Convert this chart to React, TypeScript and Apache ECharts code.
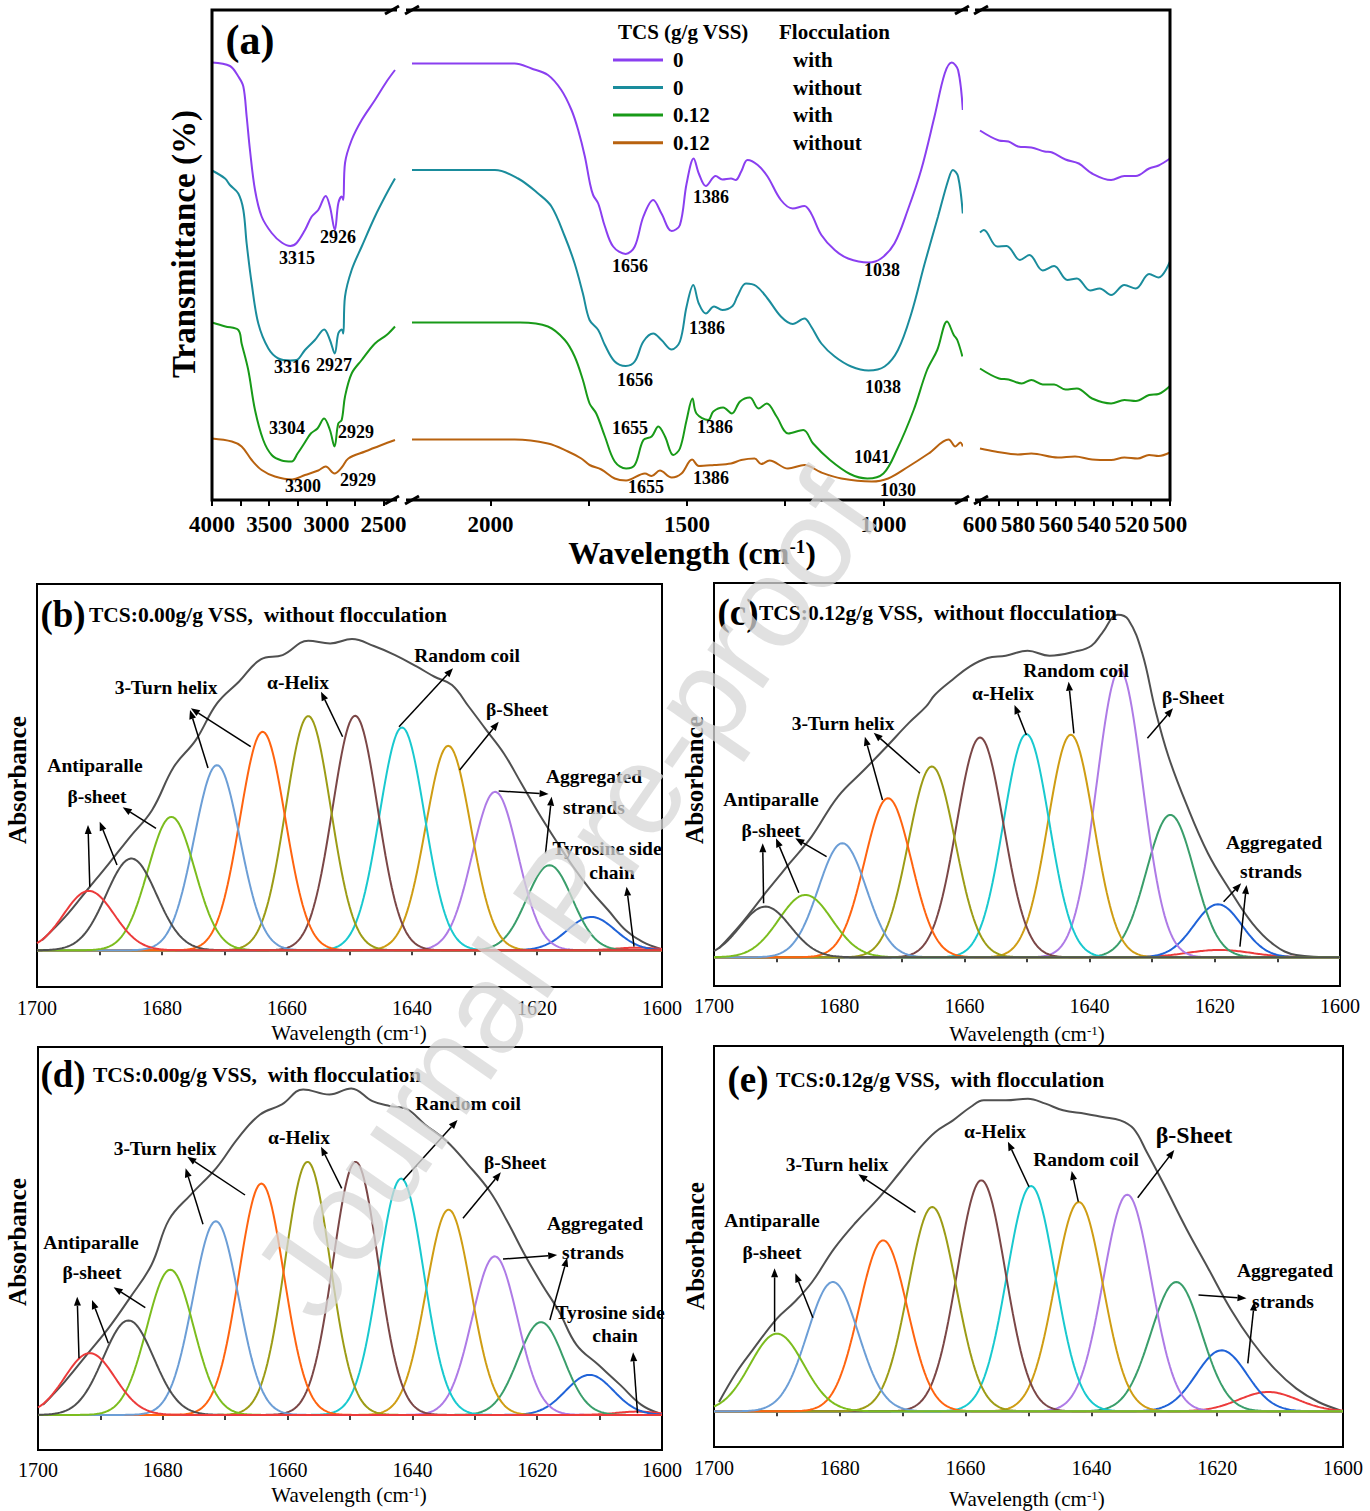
import React, { useEffect, useRef } from "react";
import * as echarts from "echarts";

const FONT = '"Liberation Serif", "Times New Roman", Times, serif';

// ================= Panel (a): FTIR spectra =================
// [wavenumber (cm-1), transmittance (a.u., curves vertically offset)]
const TCS0_WITH_HIGH = [[4000,87.5],[3843,86.8],[3770,84.7],[3726,82.7],[3697,76.7],[3668,70],[3624,62],[3566,56.7],[3478,53.4],[3391,51.5],[3315,50.8],[3260,51.4],[3187,54],[3128,56.7],[3071,58],[3006,60.8],[2969,58.7],[2926,54],[2896,59.3],[2866,60.7],[2852,60],[2837,67.4],[2779,72],[2691,76],[2575,80],[2473,83.7],[2400,86]];
const TCS0_WITH_MID = [[2200,87.3],[1939,87.3],[1896,86.3],[1854,85],[1820,82],[1794,78],[1777,74],[1760,68.7],[1747,63.3],[1739,61],[1726,59.3],[1709,54.7],[1688,50.7],[1656,49.2],[1633,50.7],[1611,56.7],[1586,60],[1565,57.3],[1539,53.8],[1518,55],[1501,63.3],[1483,68.3],[1470,65.3],[1452,62.8],[1427,64.8],[1410,64.1],[1388,64.3],[1376,64],[1362,65.7],[1346,68],[1320,67],[1295,64.7],[1261,60],[1231,58.3],[1201,58.8],[1184,57.3],[1158,53],[1124,50],[1090,48.3],[1038,47.5],[1006,48.3],[972,51.3],[938,58],[904,66],[870,76.7],[844,85.3],[826,87.5],[810,86],[798,78]];
const TCS0_WITH_LOW = [[600,73.9],[590,71.9],[585,71.7],[580,70.7],[573,70.5],[566,69.7],[562,69.5],[555,68.1],[548,67.3],[541,65.3],[531,64],[524,64.8],[518,64.8],[511,66.3],[506,66.9],[500,68.3]];

const TCS0_WITHOUT_HIGH = [[4000,65.9],[3886,64.3],[3843,63],[3770,61.3],[3726,58],[3697,51.3],[3653,43.3],[3595,35.3],[3507,30.3],[3420,28.3],[3316,27.9],[3260,28],[3187,30],[3100,32],[3019,34.1],[2969,32],[2927,29.3],[2896,33.3],[2866,34.1],[2852,33.3],[2837,40.7],[2779,46],[2691,50.7],[2575,56.7],[2473,61.3],[2400,64.3]];
const TCS0_WITHOUT_MID = [[2200,66],[1989,66],[1930,64.3],[1879,61.3],[1845,58.7],[1811,52.7],[1786,47.3],[1765,41.3],[1748,36],[1726,34],[1709,31],[1684,27.7],[1656,26.8],[1633,27.7],[1611,31.7],[1586,33.3],[1565,32],[1539,30.1],[1518,31.7],[1501,38.7],[1484,43],[1470,39.3],[1452,37.3],[1431,38.7],[1410,38],[1384,38.8],[1372,40.7],[1350,43.3],[1324,42.8],[1295,40.3],[1261,36.7],[1231,35.2],[1201,36.3],[1184,34.7],[1158,31.3],[1124,28.7],[1082,26.7],[1038,25.9],[997,26.7],[963,30],[929,37.3],[895,47.3],[861,56.7],[835,64],[823,66],[810,64.7],[798,57.3]];
const TCS0_WITHOUT_LOW = [[600,53.5],[598,54],[591,50.7],[586,50.8],[579,48],[574,49],[567,45.9],[561,46.8],[554,44],[549,44.3],[542,41.9],[537,42.3],[531,41],[524,43],[518,42.3],[511,45.2],[506,44.5],[500,47.7]];

const TCS012_WITH_HIGH = [[4000,35.5],[3883,34.7],[3770,34],[3741,31.3],[3683,26],[3624,18],[3552,12],[3478,9],[3391,7.9],[3304,7.7],[3252,9.3],[3194,11.3],[3136,13.3],[3078,14.3],[3020,16.3],[2969,14],[2929,10.7],[2896,15.3],[2866,16],[2837,20.7],[2779,25.3],[2691,28],[2575,31.3],[2473,33],[2400,34.7]];
const TCS012_WITH_MID = [[2200,35.5],[1925,35.5],[1854,34.7],[1811,32],[1786,28.7],[1765,24],[1748,19.3],[1731,17.3],[1709,12.7],[1684,7.7],[1655,6.3],[1633,7],[1611,12],[1590,12.7],[1573,14.7],[1556,12.7],[1535,9],[1518,10.3],[1501,16],[1486,20.3],[1476,17.3],[1446,16],[1433,17.7],[1408,18.5],[1386,17.3],[1365,19.7],[1340,20.5],[1318,18.3],[1297,19.3],[1272,16.7],[1242,13.3],[1204,14],[1179,11.3],[1136,8],[1085,5.2],[1041,4.3],[1000,5.3],[966,10],[923,18],[889,26],[863,30],[838,35.7],[821,33],[812,32],[799,28.7]];
const TCS012_WITH_LOW = [[600,26.3],[590,24.3],[585,24.1],[578,23.3],[573,24],[567,23.1],[561,23.1],[555,22.1],[549,22.3],[541,20.3],[531,19.3],[524,20],[518,19.8],[511,21],[506,21.2],[500,22.8]];

const TCS012_WITHOUT_HIGH = [[4000,12.3],[3826,11.7],[3741,10.7],[3653,8],[3566,6],[3450,4.7],[3300,4.1],[3187,5],[3071,5.9],[3006,6.7],[2929,5.3],[2866,6.5],[2808,8.3],[2662,9.7],[2517,11],[2400,12]];
const TCS012_WITHOUT_MID = [[2200,12.1],[1939,12.1],[1854,11.3],[1803,9.7],[1769,8.3],[1748,7],[1718,6.1],[1684,4.3],[1655,3.9],[1607,5.3],[1590,4.8],[1569,5.9],[1539,4.5],[1514,5.3],[1487,8.1],[1470,6.8],[1431,7],[1388,7.3],[1362,8],[1328,8.3],[1311,7.2],[1290,7.9],[1243,6.3],[1201,7],[1158,5.5],[1107,4.3],[1030,3.7],[988,4.3],[936,6.7],[885,9.3],[834,12.1],[817,10.7],[804,11.5],[798,10.7]];
const TCS012_WITHOUT_LOW = [[600,10.3],[592,9.7],[580,9.1],[573,9.3],[559,8.5],[550,8.7],[541,8.1],[531,8],[524,8.5],[517,8.3],[511,9],[506,8.8],[500,9.5]];

const LEGEND_TCS = ["0", "0", "0.12", "0.12"];
const LEGEND_FLOC = ["with", "without", "with", "without"];
const PEAK_LABELS_A = [
  ["3315", "2926", "1656", "1386", "1038"],
  ["3316", "2927", "1656", "1386", "1038"],
  ["3304", "2929", "1655", "1386", "1041"],
  ["3300", "2929", "1655", "1386", "1030"],
];
const A_LABELS_HIGH = [4000, 3500, 3000, 2500];
const A_TICKS_HIGH = [4000, 3750, 3500, 3250, 3000, 2750, 2500];
const A_LABELS_MID = [2000, 1500, 1000];
const A_TICKS_MID = [2000, 1750, 1500, 1250, 1000];

// ================= Panels (b)-(e): amide I curve fitting =================
// measured spectrum: [wavenumber, absorbance (a.u.)]
const B_SPECTRUM = [[1699.2,3],[1695.5,10],[1692,18],[1688.5,26],[1685.1,34],[1681.6,42],[1678.1,55],[1674.6,63],[1671.2,74],[1667.7,80.5],[1664.2,87.2],[1660.7,88.5],[1656.6,92.8],[1653.1,92],[1649.6,93.3],[1646.1,91.2],[1642.7,88.5],[1639.2,85],[1636.4,82],[1633.6,79.5],[1630.9,73],[1628.1,66],[1625.3,59],[1622.5,50],[1619.7,41],[1617,33],[1614.2,25],[1611.4,18],[1608.6,12],[1605.8,6],[1603.1,2.5],[1600.3,0.5]];
const B_CENTERS = [1691.7,1684.9,1678.5,1671.2,1663.9,1656.6,1649.1,1641.6,1634.2,1626.7,1618.0,1611.3,1604.0];
const B_HEIGHTS = [17.8,27.5,40,55.5,65.5,70.2,70.3,66.8,61.3,47.5,25.5,10,0.8];
const B_FWHM = [9.5,9.5,8.8,8.6,8.5,8.5,8.5,8.5,8.5,8.6,8.6,9,8];

const C_SPECTRUM = [[1699.2,2.7],[1695.6,10.2],[1691.4,20.2],[1687.9,28.2],[1684.4,36.2],[1680.2,48.2],[1676,56.2],[1672.4,63.2],[1668.9,70.2],[1666.1,75.2],[1664.7,78.7],[1661.9,83.2],[1659.1,87.2],[1656.3,89.7],[1653.4,90.4],[1649.9,91.9],[1646.4,90.4],[1642.2,91.7],[1639.7,93.4],[1638,97.2],[1635.5,102.7],[1633.8,101.2],[1631.6,91.2],[1629.5,74.2],[1627.4,60.2],[1624.6,46.2],[1621.1,31.2],[1617.6,20.2],[1614,10.2],[1610.5,3.7],[1607,0.7],[1600.7,0]];
const C_CENTERS = [1691.8,1685.4,1679.5,1672.2,1665.2,1657.5,1650.1,1643.0,1635.2,1627.1,1619.5,1619.3];
const C_HEIGHTS = [15.2,18.7,34.2,47.7,57.2,65.9,66.9,66.7,86.2,42.7,15.9,2.2];
const C_FWHM = [9.5,10,9,8.8,8.8,8.8,8.6,8.6,8.6,9,9,12];

const D_SPECTRUM = [[1699.2,3],[1695.7,10],[1692.2,18],[1688.7,26],[1685.3,35],[1681.8,45],[1679,58.5],[1675.5,66],[1671.4,74],[1667.9,83],[1664.4,90],[1660.9,93],[1657.5,97.5],[1653.3,96],[1649.8,97.8],[1646.4,94],[1643.6,92.5],[1640.8,91.5],[1638,87],[1634.5,82],[1631.1,75],[1627.6,67],[1624.8,58],[1622,48],[1619.2,39],[1616.5,31],[1613.7,21],[1610.2,15],[1606.7,9],[1603.3,3],[1600.5,0.5]];
const D_CENTERS = [1691.7,1685.5,1678.8,1671.5,1664.2,1656.8,1649.1,1641.8,1634.2,1626.8,1619.4,1611.6,1604.0];
const D_HEIGHTS = [18.5,28.3,43.5,58,69.3,75.8,75.8,70.8,61.5,47.5,27.8,12,1];
const D_FWHM = [9.5,9.5,8.8,8.6,8.5,8.5,8.5,8.5,8.5,8.6,8.6,9,8];

const E_SPECTRUM = [[1699.2,2.8],[1696.4,11.8],[1693.9,18.3],[1690,27.8],[1687.2,32.8],[1684.4,38.8],[1680.9,48.8],[1677.4,56.8],[1673.9,63.8],[1670.4,71.8],[1667.6,78.3],[1664.8,83.8],[1662,87.3],[1659.2,91.3],[1657.1,93.3],[1653.6,93.3],[1650.1,93.8],[1647.3,92.3],[1644.5,90.3],[1641,89.3],[1638.2,88.3],[1635.4,87.3],[1633.3,84.8],[1631.2,77.8],[1628.4,67.8],[1624.9,54.8],[1621.4,42.8],[1617.9,30.8],[1614.4,20.8],[1610.9,12.8],[1607.4,6.8],[1603.9,2.8],[1600.4,0.3]];
const E_CENTERS = [1690,1681.1,1673.1,1665.3,1657.5,1649.6,1642,1634.3,1626.5,1619.3,1611.9];
const E_HEIGHTS = [23.3,38.8,51.3,61.3,69.3,67.6,62.8,65,38.8,18.3,5.8];
const E_FWHM = [10,9.5,9,9,9,9,9,9,9.5,9.5,11];

const FIT_TITLES = [
  "TCS:0.00g/g VSS,  without flocculation",
  "TCS:0.12g/g VSS,  without flocculation",
  "TCS:0.00g/g VSS,  with flocculation",
  "TCS:0.12g/g VSS,  with flocculation",
];

// ================= styles =================
const A_COLORS = ["#8a3ff0", "#1a8c9c", "#189a18", "#b8620f"];
const RED = "#ec3b3b", GREY = "#4f4f4f", YGREEN = "#7cbd1e", LBLUE = "#6c9ed6", ORANGE = "#ff6410",
  OLIVE = "#9c9c16", BROWN = "#7b4747", CYAN = "#19c9cf", GOLD = "#cf9d14", LAV = "#ae7be6",
  GREEN = "#3a9e6b", BLUE = "#2063d8";
const ENV_COLOR = "#505050";

function gaussian(c: number, h: number, fw: number) {
  const pts: number[][] = [];
  for (let i = 0; i <= 400; i++) {
    const x = 1600 + i * 0.25;
    pts.push([x, h * Math.exp((-4 * Math.LN2 * (x - c) * (x - c)) / (fw * fw))]);
  }
  return pts;
}

function txt(text: string, x: number, y: number, size: number, o: any = {}) {
  return {
    type: "text",
    x, y,
    z: 60,
    rotation: o.rot || 0,
    style: {
      text,
      fontSize: size,
      fontWeight: o.weight || "bold",
      fontFamily: o.family || FONT,
      fill: o.fill || "#000",
      align: o.align || "center",
      verticalAlign: "middle",
      rich: o.rich,
    },
  };
}

function arrow(a: number[]) {
  const [x1, y1, x2, y2] = a;
  const ang = Math.atan2(y2 - y1, x2 - x1);
  const L = 9, W = 3.5;
  const bx = x2 - L * Math.cos(ang), by = y2 - L * Math.sin(ang);
  const px = -Math.sin(ang) * W, py = Math.cos(ang) * W;
  return [
    { type: "line", z: 60, shape: { x1, y1, x2: bx, y2: by }, style: { stroke: "#000", lineWidth: 1.5 } },
    { type: "polygon", z: 60, shape: { points: [[x2, y2], [bx + px, by + py], [bx - px, by - py]] }, style: { fill: "#000" } },
  ];
}

function wavelengthTitle(x: number, y: number, size: number, weight: string) {
  return txt("{n|Wavelength (cm}{s|-1}{n|)}", x, y, size, {
    weight,
    rich: {
      n: { fontSize: size, fontWeight: weight, fontFamily: FONT, fill: "#000" },
      s: { fontSize: Math.round(size * 0.6), fontWeight: weight, fontFamily: FONT, fill: "#000", verticalAlign: "top" },
    },
  });
}

const plain = (v: number) => String(v);

function buildOption() {
  const grids: any[] = [];
  const xAxes: any[] = [];
  const yAxes: any[] = [];
  const series: any[] = [];
  const graphic: any[] = [];

  // ---------- panel (a) ----------
  const aGrids = [
    { left: 212, width: 183 },
    { left: 412, width: 550 },
    { left: 980, width: 190 },
  ];
  aGrids.forEach((g) => grids.push({ left: g.left, width: g.width, top: 10, height: 490, outerBoundsMode: "none", containLabel: false }));
  const aLabel = { fontSize: 23, fontWeight: "bold", fontFamily: FONT, color: "#000", margin: 13, showMinLabel: true, showMaxLabel: true };
  const aTick = { show: true, length: 6, lineStyle: { color: "#000", width: 2 } };
  xAxes.push({ gridIndex: 0, type: "value", min: 2400, max: 4000, inverse: true, axisLine: { show: false }, splitLine: { show: false },
    axisTick: { ...aTick, customValues: A_TICKS_HIGH }, axisLabel: { ...aLabel, customValues: A_LABELS_HIGH, formatter: plain } });
  xAxes.push({ gridIndex: 1, type: "value", min: 800, max: 2200, inverse: true, axisLine: { show: false }, splitLine: { show: false },
    axisTick: { ...aTick, customValues: A_TICKS_MID }, axisLabel: { ...aLabel, customValues: A_LABELS_MID, formatter: plain } });
  xAxes.push({ gridIndex: 2, type: "value", min: 500, max: 600, interval: 10, inverse: true, axisLine: { show: false }, splitLine: { show: false },
    axisTick: aTick, axisLabel: { ...aLabel, formatter: (v: number) => (Math.round(v) % 20 === 0 ? String(v) : "") } });
  for (let i = 0; i < 3; i++) yAxes.push({ gridIndex: i, type: "value", min: 0, max: 98, show: false });

  const spectra = [
    [TCS0_WITH_HIGH, TCS0_WITH_MID, TCS0_WITH_LOW],
    [TCS0_WITHOUT_HIGH, TCS0_WITHOUT_MID, TCS0_WITHOUT_LOW],
    [TCS012_WITH_HIGH, TCS012_WITH_MID, TCS012_WITH_LOW],
    [TCS012_WITHOUT_HIGH, TCS012_WITHOUT_MID, TCS012_WITHOUT_LOW],
  ];
  spectra.forEach((segs, si) => {
    segs.forEach((d, gi) => {
      series.push({
        type: "line", xAxisIndex: gi, yAxisIndex: gi, data: d, showSymbol: false, smooth: 0.35,
        lineStyle: { color: A_COLORS[si], width: 2 }, itemStyle: { color: A_COLORS[si] }, silent: true,
      });
    });
  });

  // frame with axis breaks
  graphic.push({ type: "rect", z: 50, shape: { x: 212, y: 10, width: 958, height: 490 }, style: { fill: "none", stroke: "#000", lineWidth: 3 } });
  [[397, 406, 392, 412], [968, 975, 962, 981]].forEach(([g1, g2, c1, c2]) => {
    [10, 500].forEach((yy) => {
      graphic.push({ type: "rect", z: 51, shape: { x: g1, y: yy - 6, width: g2 - g1, height: 12 }, style: { fill: "#fff" } });
      [c1, c2].forEach((cx) => {
        graphic.push({ type: "line", z: 52, shape: { x1: cx - 7, y1: yy + 4, x2: cx + 7, y2: yy - 4 }, style: { stroke: "#000", lineWidth: 3 } });
      });
    });
  });

  graphic.push(txt("(a)", 250, 40, 42));
  graphic.push(txt("Transmittance (%)", 184, 244, 33, { rot: Math.PI / 2 }));
  graphic.push(wavelengthTitle(692, 553, 32, "bold"));

  // legend
  graphic.push(txt("TCS (g/g VSS)", 618, 32, 21, { align: "left" }));
  graphic.push(txt("Flocculation", 779, 32, 21, { align: "left" }));
  const legendRows = [60, 87.5, 115, 142.7];
  legendRows.forEach((yy, i) => {
    graphic.push({ type: "line", z: 60, shape: { x1: 613, y1: yy, x2: 663, y2: yy }, style: { stroke: A_COLORS[i], lineWidth: 3 } });
    graphic.push(txt(LEGEND_TCS[i], 673, yy, 21, { align: "left" }));
    graphic.push(txt(LEGEND_FLOC[i], 793, yy, 21, { align: "left" }));
  });

  // peak labels (a)
  const aLabelPos = [
    [[297, 258], [338, 237], [630, 266], [711, 197], [882, 270]],
    [[292, 367], [334, 365], [635, 380], [707, 328], [883, 387]],
    [[287, 428], [356, 432], [630, 428], [715, 427], [872, 457]],
    [[303, 486], [358, 480], [646, 487], [711, 478], [898, 490]],
  ];
  PEAK_LABELS_A.forEach((row, i) => row.forEach((t, j) => graphic.push(txt(t, aLabelPos[i][j][0], aLabelPos[i][j][1], 18))));

  // ---------- panels (b)-(e) ----------
  const fit = [
    { grid: { left: 37, top: 584, width: 625, height: 403 }, ymin: -11, ymax: 109.8, spec: B_SPECTRUM, c: B_CENTERS, h: B_HEIGHTS, w: B_FWHM,
      colors: [RED, GREY, YGREEN, LBLUE, ORANGE, OLIVE, BROWN, CYAN, GOLD, LAV, GREEN, BLUE, RED], margin: 11,
      tag: ["(b)", 63, 614], title: [89, 615], absX: 17, absY: 780, wl: [349, 1033],
      notes: [["Antiparalle", 95, 765], ["β-sheet", 97, 796], ["3-Turn helix", 166, 687], ["α-Helix", 298, 682], ["Random coil", 467, 655], ["β-Sheet", 517, 709], ["Aggregated", 594, 776], ["strands", 594, 807], ["Tyrosine side", 607, 848], ["chain", 612, 872]],
      arrows: [[89.8,886.7,88,825],[117,865,99.7,821.7],[156,828.3,122.7,807.3],[208,768,190,710],[250.7,746.7,190.8,708.3],[342.6,736.7,321,691.7],[399,726.7,453,668.3],[459.7,770,498.7,721.7],[498.7,791,548.6,794],[545.5,853.3,551.6,796.7],[634,946.7,626.6,886.7]] },
    { grid: { left: 714, top: 583, width: 626, height: 403 }, ymin: -8.6, ymax: 112.2, spec: C_SPECTRUM, c: C_CENTERS, h: C_HEIGHTS, w: C_FWHM,
      colors: [GREY, YGREEN, LBLUE, ORANGE, OLIVE, BROWN, CYAN, GOLD, LAV, GREEN, BLUE, RED], margin: 10,
      tag: ["(c)", 738, 612], title: [759, 613], absX: 694, absY: 780, wl: [1027, 1034],
      notes: [["Antiparalle", 771, 799], ["β-sheet", 771, 830], ["3-Turn helix", 843, 723], ["α-Helix", 1003, 693], ["Random coil", 1076, 670], ["β-Sheet", 1193, 697], ["Aggregated", 1274, 842], ["strands", 1271, 871]],
      arrows: [[763.6,903.3,762.7,843.3],[798.8,892.7,776,838.3],[826.6,856.7,795.3,838.3],[882.5,800,864.9,736.7],[919.9,773.3,873.7,732.7],[1026.4,735,1014.5,705],[1073.9,733.3,1068.6,681.7],[1147.4,738.3,1173,708.3],[1223.6,901.7,1241.2,883.3],[1239.9,946.7,1246.5,885]] },
    { grid: { left: 38, top: 1047, width: 624, height: 403 }, ymin: -10.5, ymax: 110.2, spec: D_SPECTRUM, c: D_CENTERS, h: D_HEIGHTS, w: D_FWHM,
      colors: [RED, GREY, YGREEN, LBLUE, ORANGE, OLIVE, BROWN, CYAN, GOLD, LAV, GREEN, BLUE, RED], margin: 10,
      tag: ["(d)", 63, 1074], title: [93, 1075], absX: 17, absY: 1242, wl: [349, 1495],
      notes: [["Antiparalle", 91, 1242], ["β-sheet", 92, 1272], ["3-Turn helix", 165, 1148], ["α-Helix", 299, 1137], ["Random coil", 468, 1103], ["β-Sheet", 515, 1162], ["Aggregated", 595, 1223], ["strands", 593, 1252], ["Tyrosine side", 610, 1312], ["chain", 615, 1335]],
      arrows: [[79,1358.3,77.2,1296.7],[108.4,1343.3,92,1300],[145.3,1307.7,113.6,1287.3],[203,1224.3,185.6,1168.3],[245,1195,187.3,1156.7],[341.7,1188.3,321,1146.7],[403.3,1180,457.5,1120],[463,1218.3,500.9,1172.3],[503,1259,557.2,1255],[549.9,1320,567.2,1257.7],[637.5,1413.3,633.1,1352.3]] },
    { grid: { left: 714, top: 1046, width: 629, height: 401 }, ymin: -10.7, ymax: 109.6, spec: E_SPECTRUM, c: E_CENTERS, h: E_HEIGHTS, w: E_FWHM,
      colors: [YGREEN, LBLUE, ORANGE, OLIVE, BROWN, CYAN, GOLD, LAV, GREEN, BLUE, RED], margin: 11,
      tag: ["(e)", 748, 1079], title: [776, 1080], absX: 695, absY: 1246, wl: [1027, 1499],
      notes: [["Antiparalle", 772, 1220], ["β-sheet", 772, 1252], ["3-Turn helix", 837, 1164], ["α-Helix", 995, 1131], ["Random coil", 1086, 1159], ["β-Sheet", 1194, 1135, 24], ["Aggregated", 1285, 1270], ["strands", 1283, 1301]],
      arrows: [[774.6,1331.7,774.6,1268.3],[812.9,1317.7,795.3,1273.3],[915.5,1212.3,858.3,1174.3],[1029,1186.7,1007.9,1141.7],[1078.3,1201.7,1071.7,1171],[1137.7,1197.7,1174.3,1150],[1198.5,1295,1246.5,1298.3],[1247.8,1363.3,1254.4,1301.7]] },
  ];

  fit.forEach((p: any, k) => {
    const gi = grids.length;
    grids.push({ ...p.grid, show: true, borderColor: "#000", borderWidth: 2, backgroundColor: "transparent", outerBoundsMode: "none", containLabel: false });
    xAxes.push({
      gridIndex: gi, type: "value", min: 1600, max: 1700, interval: 10, inverse: true,
      axisLine: { show: false }, splitLine: { show: false },
      axisTick: { show: true, length: 5, lineStyle: { color: "#000", width: 1.5 } },
      axisLabel: { fontSize: 20, fontFamily: FONT, color: "#000", margin: p.margin, showMinLabel: true, showMaxLabel: true,
        formatter: (v: number) => (Math.round(v) % 20 === 0 ? String(v) : "") },
    });
    yAxes.push({ gridIndex: gi, type: "value", min: p.ymin, max: p.ymax, show: false });
    series.push({ type: "line", xAxisIndex: gi, yAxisIndex: gi, data: p.spec, showSymbol: false, smooth: 0.4,
      lineStyle: { color: ENV_COLOR, width: 2 }, itemStyle: { color: ENV_COLOR }, silent: true });
    for (let i = p.c.length - 1; i >= 0; i--) {
      series.push({ type: "line", xAxisIndex: gi, yAxisIndex: gi, data: gaussian(p.c[i], p.h[i], p.w[i]), showSymbol: false,
        lineStyle: { color: p.colors[i], width: 2 }, itemStyle: { color: p.colors[i] }, silent: true });
    }
    graphic.push(txt(p.tag[0], p.tag[1], p.tag[2], 37));
    graphic.push(txt(FIT_TITLES[k], p.title[0], p.title[1], 21.5, { align: "left" }));
    graphic.push(txt("Absorbance", p.absX, p.absY, 25, { rot: Math.PI / 2 }));
    graphic.push(wavelengthTitle(p.wl[0], p.wl[1], 21, "normal"));
    p.notes.forEach((n: any) => graphic.push(txt(n[0], n[1], n[2], n[3] || 19.5)));
    p.arrows.forEach((a: number[]) => graphic.push(...arrow(a)));
  });

  // watermark
  graphic.push({
    type: "text", x: 565, y: 895, z: 100, rotation: (55.2 * Math.PI) / 180,
    style: { text: "Journal Pre-proof", fontSize: 128, fontFamily: '"Liberation Sans", Arial, sans-serif', fill: "rgba(215,215,215,0.75)", align: "center", verticalAlign: "middle" },
  });

  return {
    animation: false,
    backgroundColor: "#fff",
    grid: grids,
    xAxis: xAxes,
    yAxis: yAxes,
    series,
    graphic,
  };
}

export default function App() {
  const ref = useRef<HTMLDivElement>(null);
  useEffect(() => {
    const chart = echarts.init(ref.current!, null, { renderer: "svg" });
    chart.setOption(buildOption() as any);
    return () => chart.dispose();
  }, []);
  return <div ref={ref} style={{ position: "absolute", left: 0, top: 0, width: 1370, height: 1511, background: "#fff" }} />;
}
